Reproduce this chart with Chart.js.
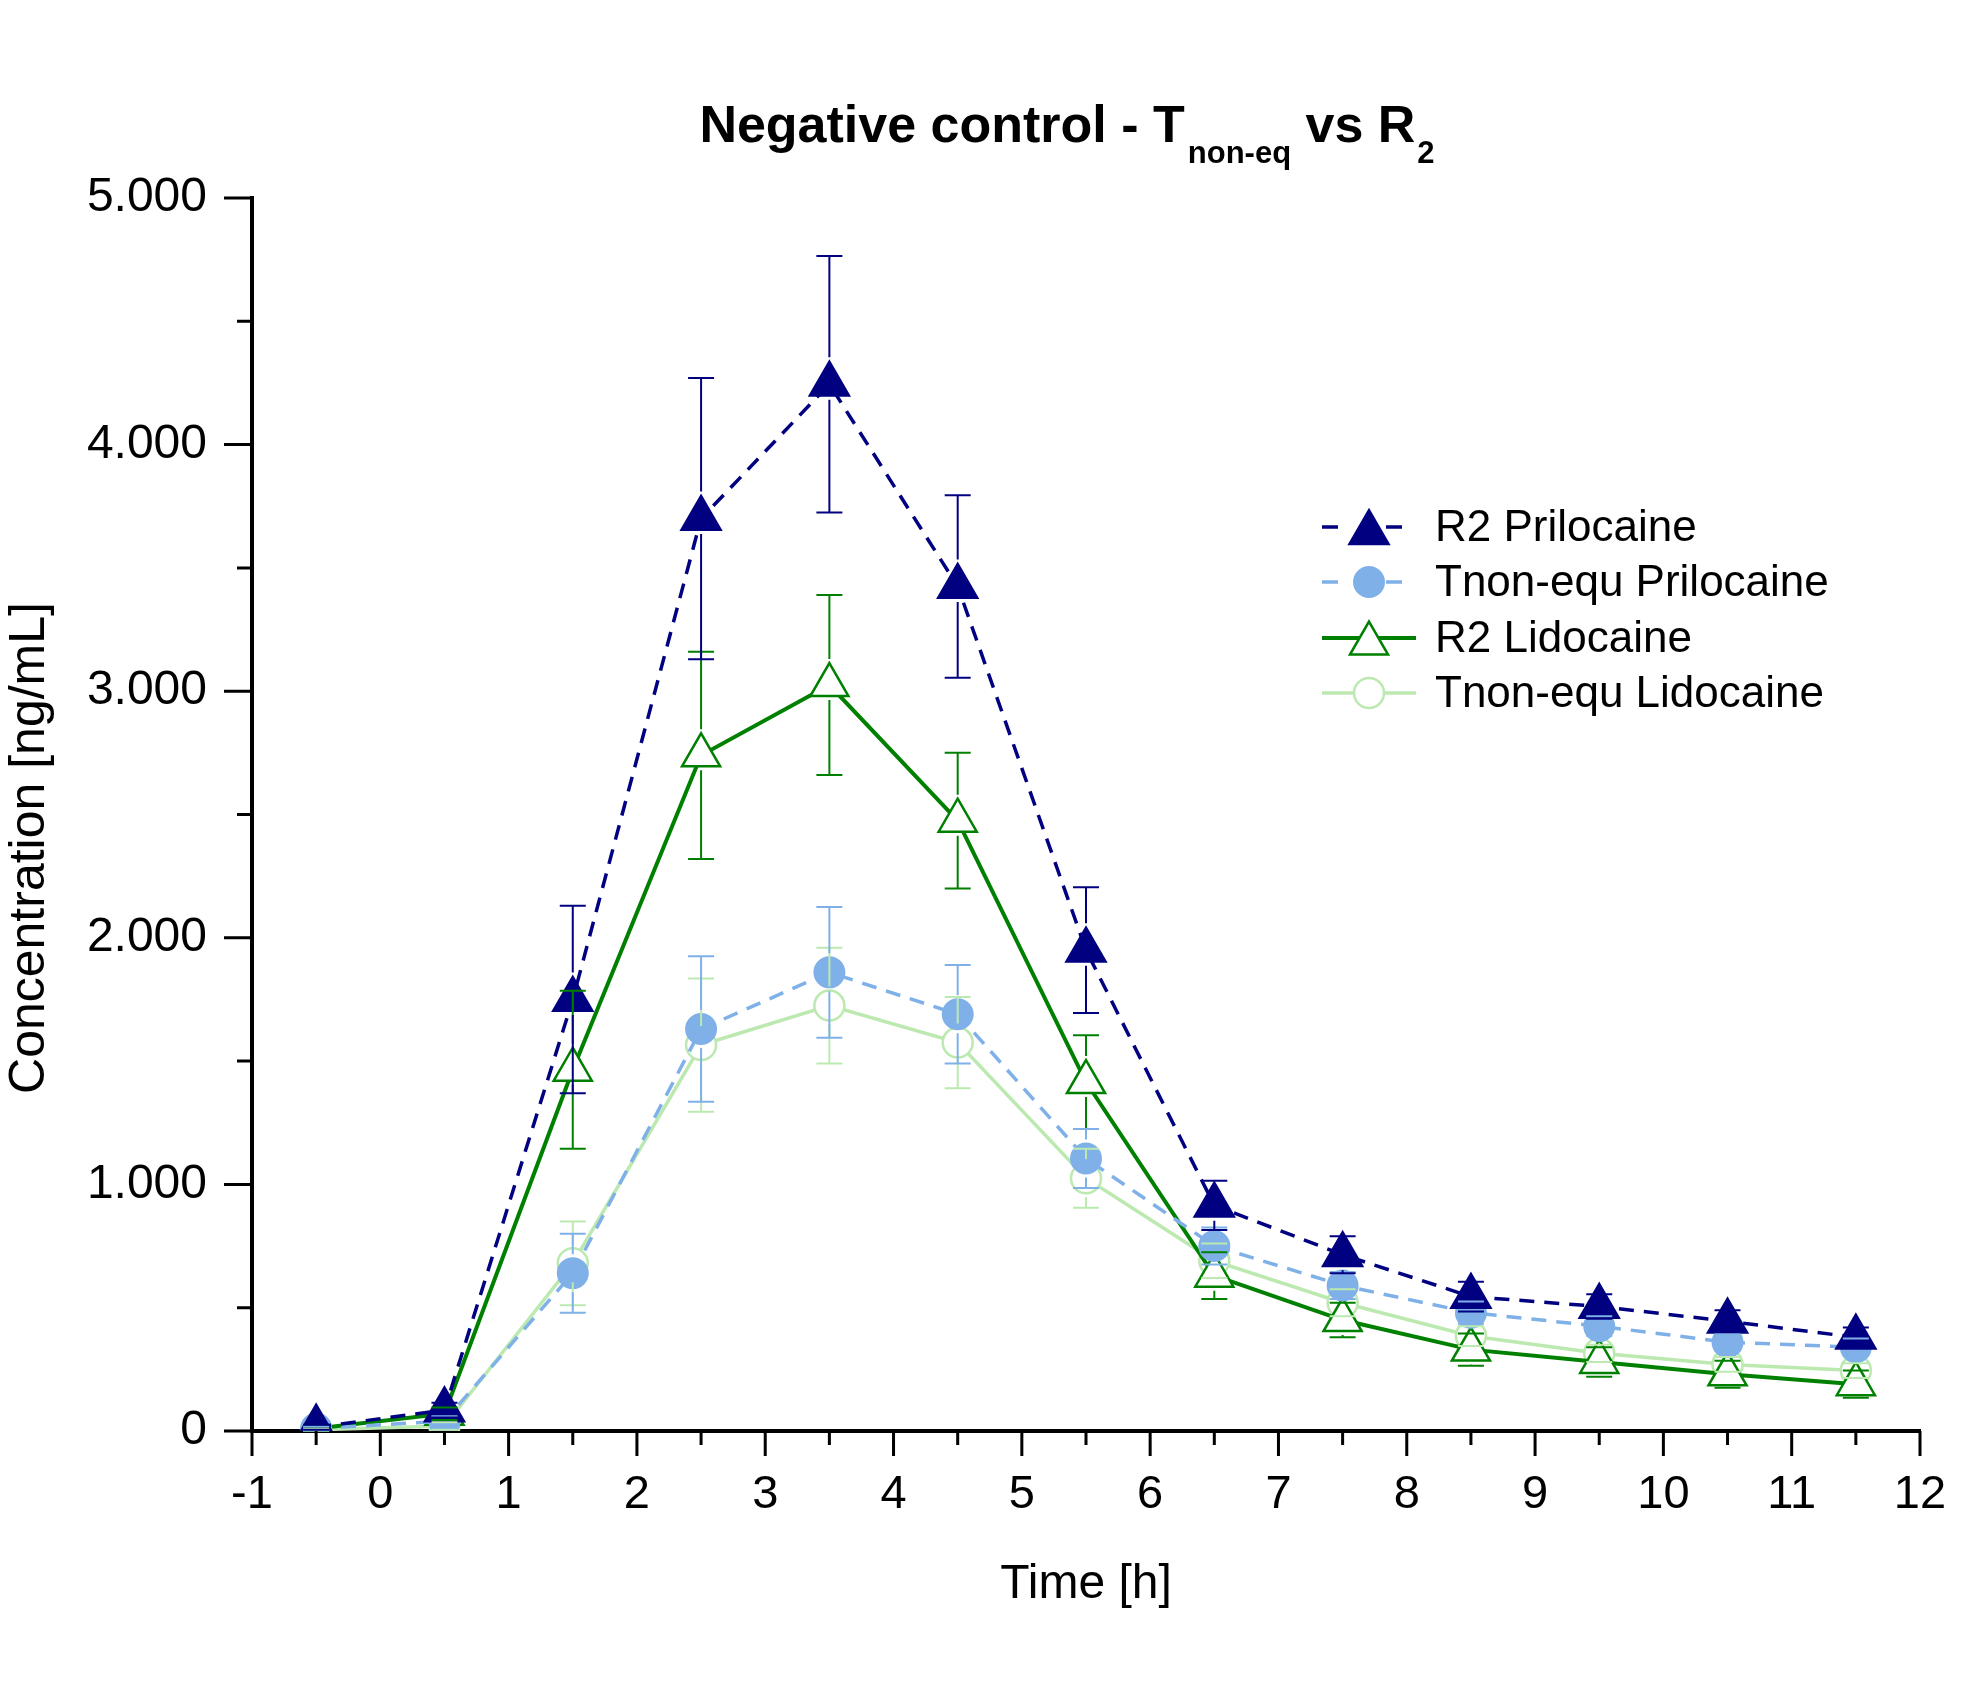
<!DOCTYPE html>
<html>
<head>
<meta charset="utf-8">
<script src="https://cdn.jsdelivr.net/npm/chart.js@4.4.1/dist/chart.umd.min.js"></script>
<style>
html, body { margin: 0; padding: 0; background: #fff; }
</style>
</head>
<body>
<canvas id="pkChart" width="1969" height="1702"></canvas>
<script>
const times = [-0.5, 0.5, 1.5, 2.5, 3.5, 4.5, 5.5, 6.5, 7.5, 8.5, 9.5, 10.5, 11.5];

const r2Prilo   = [15, 85, 1750, 3700, 4245, 3425, 1950, 915, 715, 545, 505, 445, 380];
const r2PriloSd = [10, 30, 380, 570, 520, 370, 255, 100, 75, 60, 50, 45, 40];
const tPrilo    = [10, 40, 640, 1630, 1860, 1690, 1105, 750, 590, 480, 425, 360, 340];
const tPriloSd  = [8, 20, 160, 295, 265, 200, 120, 75, 55, 45, 40, 35, 35];
const r2Lido    = [10, 70, 1465, 2740, 3025, 2475, 1415, 630, 450, 330, 280, 230, 190];
const r2LidoSd  = [8, 25, 320, 420, 365, 275, 190, 95, 70, 65, 60, 55, 55];
const tLido     = [5, 20, 680, 1565, 1725, 1575, 1025, 690, 520, 385, 315, 270, 245];
const tLidoSd   = [5, 15, 170, 270, 235, 185, 120, 70, 55, 40, 35, 30, 30];

const seriesNames = ["R2 Prilocaine", "Tnon-equ Prilocaine", "R2 Lidocaine", "Tnon-equ Lidocaine"];
const xTicks = [-1, 12];
const yTicks = [0, 5000];

const FONT = '"Liberation Sans", Arial, sans-serif';
const toPoints = vals => vals.map((v, i) => ({ x: times[i], y: v }));

const navy = "#000080", lightBlue = "#7fb1e8", green = "#008000", paleGreen = "#bce9b0";

const datasets = [
    { label: seriesNames[0], data: toPoints(r2Prilo), sd: r2PriloSd, borderColor: navy, borderWidth: 3.5, borderDash: [15, 10],
      pointStyle: "triangle", pointRadius: 23, pointBackgroundColor: navy, pointBorderColor: navy, pointBorderWidth: 2, dashed: true },
    { label: seriesNames[1], data: toPoints(tPrilo), sd: tPriloSd, borderColor: lightBlue, borderWidth: 3.5, borderDash: [15, 10],
      pointStyle: "circle", pointRadius: 15, pointBackgroundColor: lightBlue, pointBorderColor: lightBlue, pointBorderWidth: 2, dashed: true },
    { label: seriesNames[2], data: toPoints(r2Lido), sd: r2LidoSd, borderColor: green, borderWidth: 4,
      pointStyle: "triangle", pointRadius: 22, pointBackgroundColor: "#fff", pointBorderColor: green, pointBorderWidth: 2.5 },
    { label: seriesNames[3], data: toPoints(tLido), sd: tLidoSd, borderColor: paleGreen, borderWidth: 3.5,
      pointStyle: "circle", pointRadius: 15, pointBackgroundColor: "#fff", pointBorderColor: paleGreen, pointBorderWidth: 2.5 }
];

function drawMarker(ctx, style, x, y, r) {
    ctx.beginPath();
    if (style === "triangle") {
        ctx.moveTo(x, y - r);
        ctx.lineTo(x + r * Math.sin(2 * Math.PI / 3), y - r * Math.cos(2 * Math.PI / 3));
        ctx.lineTo(x + r * Math.sin(4 * Math.PI / 3), y - r * Math.cos(4 * Math.PI / 3));
        ctx.closePath();
    } else {
        ctx.arc(x, y, r, 0, Math.PI * 2);
    }
    ctx.fill();
    ctx.stroke();
}

const errorBars = {
    id: "errorBars",
    afterDatasetsDraw(chart) {
        const ctx = chart.ctx;
        const ys = chart.scales.y;
        for (let i = chart.data.datasets.length - 1; i >= 0; i--) {
            const ds = chart.data.datasets[i];
            const meta = chart.getDatasetMeta(i);
            ctx.save();
            ctx.strokeStyle = ds.borderColor;
            ctx.lineWidth = 2;
            ctx.beginPath();
            meta.data.forEach((pt, j) => {
                const v = ds.data[j].y, sd = ds.sd[j];
                const x = pt.x, y = pt.y;
                const yTop = ys.getPixelForValue(v + sd);
                const yBot = ys.getPixelForValue(Math.max(0, v - sd));
                const r = ds.pointRadius;
                const gapTop = r + 4;
                const gapBot = (ds.pointStyle === "triangle" ? r / 2 : r) + 4;
                if (y - gapTop > yTop) { ctx.moveTo(x, yTop); ctx.lineTo(x, y - gapTop); }
                if (y + gapBot < yBot) { ctx.moveTo(x, y + gapBot); ctx.lineTo(x, yBot); }
                ctx.moveTo(x - 13, yTop); ctx.lineTo(x + 13, yTop);
                ctx.moveTo(x - 13, yBot); ctx.lineTo(x + 13, yBot);
            });
            ctx.stroke();
            ctx.restore();
        }
    }
};

const decor = {
    id: "decor",
    afterDraw(chart) {
        const { ctx, chartArea: a, scales: { x, y } } = chart;
        ctx.save();
        // tick marks
        ctx.strokeStyle = "#000";
        ctx.lineWidth = 3;
        ctx.beginPath();
        for (let v = yTicks[0]; v <= yTicks[1]; v += 500) {
            const py = y.getPixelForValue(v);
            const len = v % 1000 === 0 ? 28 : 15;
            ctx.moveTo(a.left, py); ctx.lineTo(a.left - len, py);
        }
        for (let k = xTicks[0] * 2; k <= xTicks[1] * 2; k++) {
            const px = x.getPixelForValue(k / 2);
            const len = k % 2 === 0 ? 25 : 14;
            ctx.moveTo(px, a.bottom); ctx.lineTo(px, a.bottom + len);
        }
        ctx.stroke();

        // axis titles
        ctx.fillStyle = "#000";
        ctx.textAlign = "center";
        ctx.textBaseline = "middle";
        ctx.font = "48px " + FONT;
        ctx.fillText("Time [h]", (a.left + a.right) / 2, 1585);
        ctx.save();
        ctx.translate(30, 848);
        ctx.rotate(-Math.PI / 2);
        ctx.font = "50px " + FONT;
        ctx.fillText("Concentration [ng/mL]", 0, 0);
        ctx.restore();

        // title with subscripts
        const big = "bold 52px " + FONT, small = "bold 31px " + FONT;
        const parts = [
            { t: "Negative control - T", f: big, dy: 0 },
            { t: "non-eq", f: small, dy: 21, pre: 3 },
            { t: " vs R", f: big, dy: 0 },
            { t: "2", f: small, dy: 21, pre: 2 }
        ];
        let total = 0;
        parts.forEach(p => { ctx.font = p.f; p.w = ctx.measureText(p.t).width + (p.pre || 0); total += p.w; });
        let cx = 1067 - total / 2;
        ctx.textAlign = "left";
        ctx.textBaseline = "alphabetic";
        parts.forEach(p => {
            ctx.font = p.f;
            ctx.fillText(p.t, cx + (p.pre || 0), 142 + p.dy);
            cx += p.w;
        });

        // legend
        const rowY = [527, 582, 638, 693];
        chart.data.datasets.forEach((ds, i) => {
            const ly = rowY[i];
            ctx.strokeStyle = ds.borderColor;
            ctx.lineWidth = ds.borderWidth;
            ctx.beginPath();
            if (ds.dashed) {
                ctx.moveTo(1322, ly); ctx.lineTo(1338, ly);
                ctx.moveTo(1386, ly); ctx.lineTo(1402, ly);
            } else {
                ctx.moveTo(1322, ly); ctx.lineTo(1416, ly);
            }
            ctx.stroke();
            ctx.fillStyle = ds.pointBackgroundColor;
            ctx.strokeStyle = ds.pointBorderColor;
            ctx.lineWidth = ds.pointBorderWidth;
            const off = ds.pointStyle === "triangle" ? ds.pointRadius / 4 : 0;
            drawMarker(ctx, ds.pointStyle, 1369, ly + off, ds.pointRadius);
            ctx.fillStyle = "#000";
            ctx.font = "44px " + FONT;
            ctx.textBaseline = "middle";
            ctx.fillText(ds.label, 1435, ly + 2);
        });
        ctx.restore();
    }
};

new Chart(document.getElementById("pkChart"), {
    type: "line",
    data: { datasets: datasets },
    options: {
        responsive: false,
        animation: false,
        devicePixelRatio: 1,
        layout: { padding: { top: 198, right: 49, left: 0, bottom: 0 } },
        elements: { line: { tension: 0, fill: false } },
        plugins: { legend: { display: false }, title: { display: false }, tooltip: { enabled: false } },
        scales: {
            x: {
                type: "linear",
                min: xTicks[0], max: xTicks[1],
                grid: { display: false, drawTicks: false },
                border: { display: true, color: "#000", width: 4 },
                ticks: { stepSize: 1, padding: 36, color: "#000", font: { family: FONT, size: 47 } },
                afterFit: s => { s.height = 271; s.paddingLeft = 0; s.paddingRight = 0; }
            },
            y: {
                min: yTicks[0], max: yTicks[1],
                grid: { display: false, drawTicks: false },
                border: { display: true, color: "#000", width: 4 },
                ticks: {
                    stepSize: 1000, padding: 45, color: "#000", font: { family: FONT, size: 48 },
                    callback: v => v === 0 ? "0" : (v / 1000) + ".000"
                },
                afterFit: s => { s.width = 252; s.paddingTop = 0; s.paddingBottom = 0; }
            }
        }
    },
    plugins: [errorBars, decor]
});
</script>
</body>
</html>
